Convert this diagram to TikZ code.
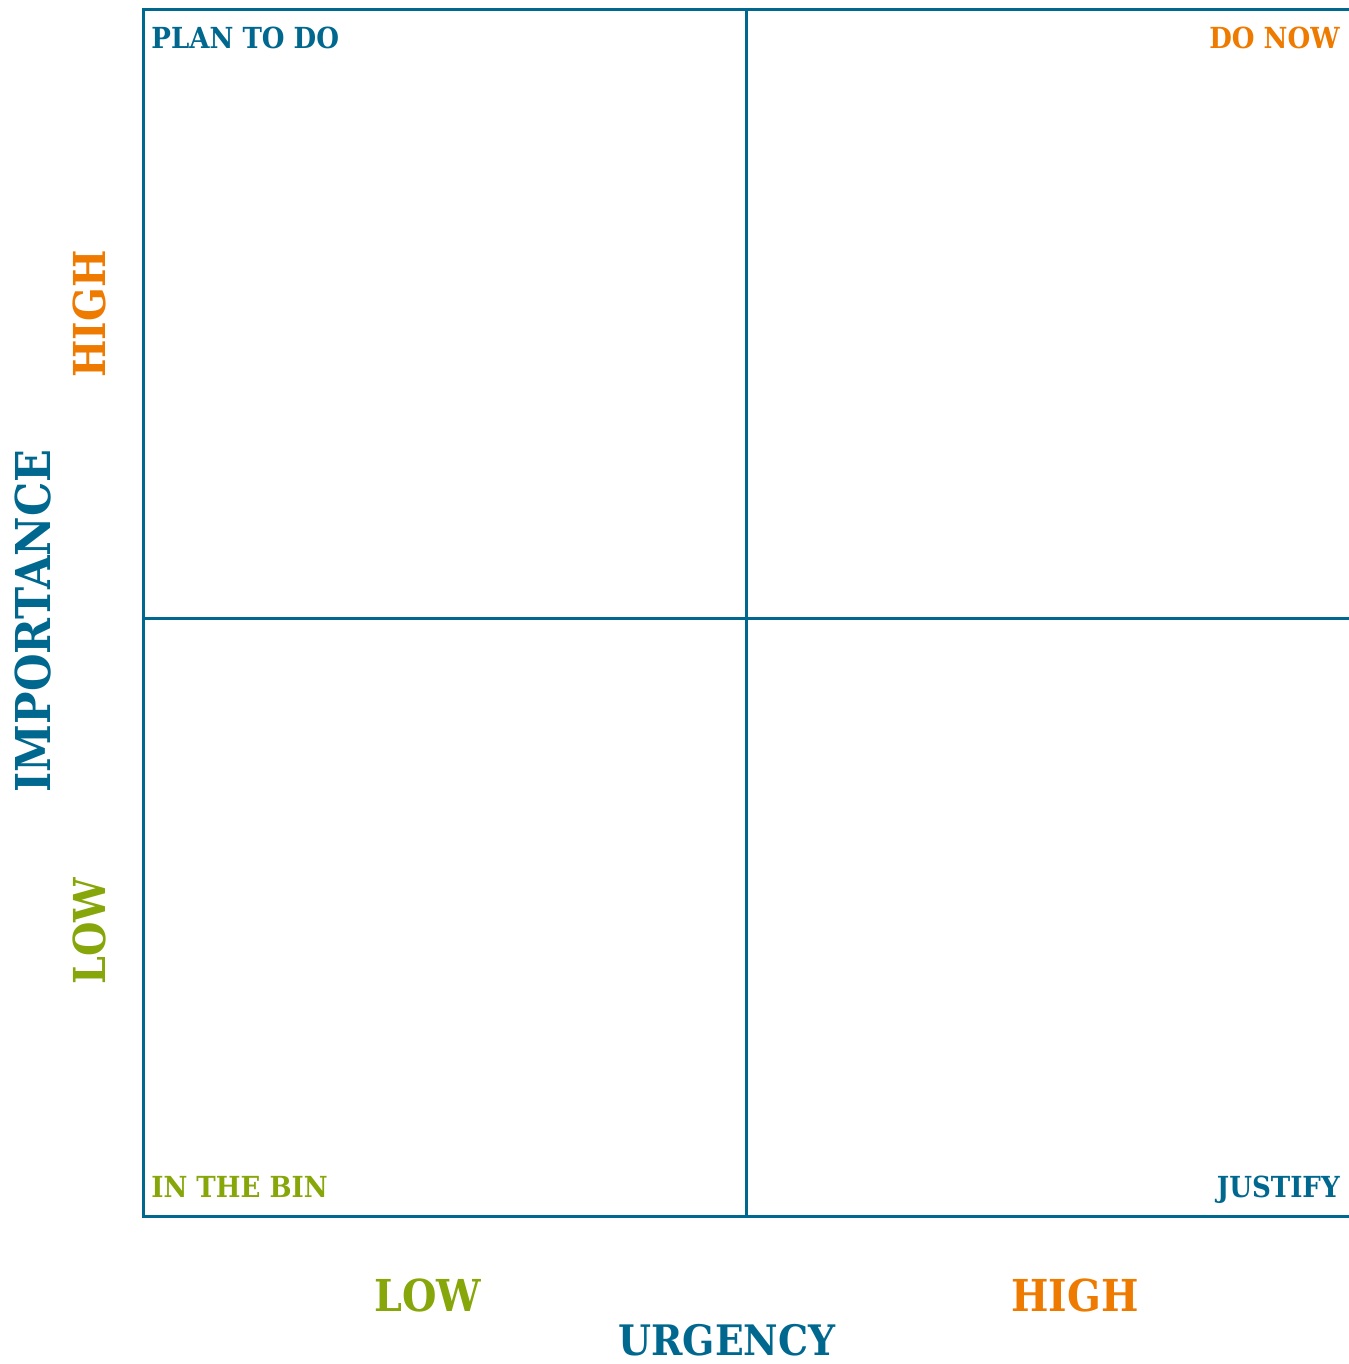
\documentclass[tikz,border=0pt]{standalone}
\usepackage{fontspec}
\newfontfamily\slab{DejaVu Serif Condensed}
\definecolor{matblue}{RGB}{0,104,142}
\definecolor{matorange}{RGB}{238,122,0}
\definecolor{matgreen}{RGB}{134,166,10}
\begin{document}
\begin{tikzpicture}[x=0.5pt,y=-0.5pt,
				every node/.style={inner sep=0pt,font=\slab\bfseries},
				grid/.style={draw=matblue,line width=1.5pt},
				corner/.style={font=\slab\bfseries\fontsize{14.5}{15}\selectfont},
				level/.style={font=\slab\bfseries\fontsize{22}{22}\selectfont},
				axis/.style={font=\slab\bfseries\fontsize{24}{24}\selectfont,text=matblue}]
\useasboundingbox (0,0) rectangle (1348,1364);
\coordinate (tl) at (143,10);
\coordinate (tr) at (1350,10);
\coordinate (bl) at (143,1216);
\coordinate (br) at (1350,1216);
\coordinate (mt) at (746,10);
\coordinate (mb) at (746,1216);
\coordinate (ml) at (143,618);
\coordinate (mr) at (1350,618);
\draw[grid] (tr) -- (tl) -- (bl) -- (br);
\draw[grid] (mt) -- (mb);
\draw[grid] (ml) -- (mr);
% quadrants
\node[corner,text=matblue,anchor=base west] (plan) at (151,49) {PLAN TO DO};
\node[corner,text=matorange,anchor=base east] (now) at (1340,49) {DO NOW};
\node[corner,text=matgreen,anchor=base west] (bin) at (151,1197) {IN THE BIN};
\node[corner,text=matblue,anchor=base east] (justify) at (1340,1197) {JUSTIFY};
% axes
\node[level,text=matorange,rotate=90] (imphigh) at (89,314) {HIGH};
\node[level,text=matgreen,rotate=90] (implow) at (89,931) {LOW};
\node[axis,rotate=90] (importance) at (33,621) {IMPORTANCE};
\node[level,text=matgreen,anchor=base] (urglow) at (428,1311) {LOW};
\node[level,text=matorange,anchor=base] (urghigh) at (1075,1311) {HIGH};
\node[axis,font=\slab\bfseries\fontsize{21}{21}\selectfont,anchor=base] (urgency) at (727,1355) {URGENCY};
\end{tikzpicture}
\end{document}
